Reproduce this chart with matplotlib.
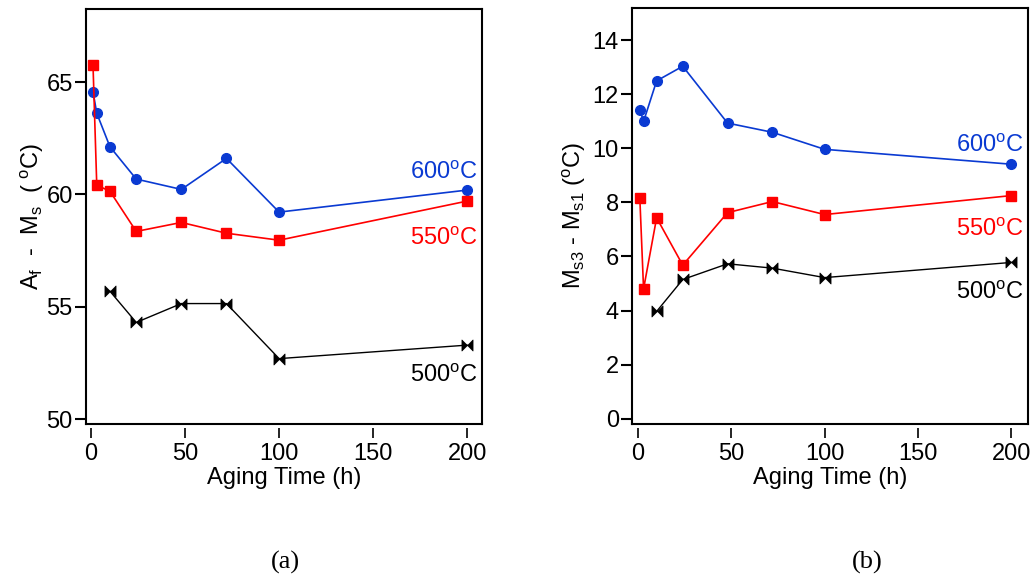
import matplotlib
matplotlib.use("Agg")
import matplotlib.pyplot as plt
from matplotlib.path import Path
import numpy as np

plt.rcParams['font.family'] = ['Liberation Sans', 'DejaVu Sans']
plt.rcParams['mathtext.fontset'] = 'custom'
plt.rcParams['mathtext.rm'] = 'Liberation Sans'
plt.rcParams['mathtext.it'] = 'Liberation Sans:italic'

# ---- data: panel (a) Af - Ms ----
t600_a = [1, 3, 10, 24, 48, 72, 100, 200]
v600_a = [64.57, 63.61, 62.12, 60.68, 60.22, 61.60, 59.21, 60.19]
t550_a = [1, 3, 10, 24, 48, 72, 100, 200]
v550_a = [65.76, 60.41, 60.14, 58.35, 58.75, 58.27, 57.96, 59.70]
t500_a = [10, 24, 48, 72, 100, 200]
v500_a = [55.69, 54.30, 55.14, 55.14, 52.69, 53.29]

# ---- data: panel (b) Ms3 - Ms1 ----
t600_b = [1, 3, 10, 24, 48, 72, 100, 200]
v600_b = [11.43, 10.99, 12.49, 13.03, 10.93, 10.59, 9.96, 9.41]
t550_b = [1, 3, 10, 24, 48, 72, 100, 200]
v550_b = [8.16, 4.80, 7.43, 5.68, 7.62, 8.03, 7.55, 8.25]
t500_b = [10, 24, 48, 72, 100, 200]
v500_b = [3.97, 5.15, 5.73, 5.57, 5.22, 5.78]

xticks = [0, 50, 100, 150, 200]
yticks_a = [50, 55, 60, 65]
yticks_b = [0, 2, 4, 6, 8, 10, 12, 14]

BLUE = '#0a3ad2'
RED = '#ff0000'

bowtie = Path([(-1, -1), (0, 0), (-1, 1), (-1, -1), (1, -1), (0, 0), (1, 1), (1, -1)],
              [Path.MOVETO, Path.LINETO, Path.LINETO, Path.CLOSEPOLY,
               Path.MOVETO, Path.LINETO, Path.LINETO, Path.CLOSEPOLY])

fig = plt.figure(figsize=(10.33, 5.79), dpi=100)

def setup(ax, xlim, ylim, yticks, ylabel, ylab_x):
    ax.set_xlim(*xlim)
    ax.set_ylim(*ylim)
    ax.set_xticks(xticks)
    ax.set_yticks(yticks)
    for s in ['top', 'right', 'left']:
        ax.spines[s].set_linewidth(1.5)
    ax.spines['bottom'].set_position(('outward', 3))
    ax.spines['bottom'].set_visible(False)
    ax.plot([0, 1], [0, 0], transform=ax.transAxes, color='k', lw=1.5, clip_on=False)
    ax.tick_params(axis='y', direction='out', length=8, width=1.5, labelsize=17, pad=1.5)
    ax.tick_params(axis='x', direction='out', length=7, width=1.2, labelsize=17, pad=4)
    ax.set_xlabel('Aging Time (h)', fontsize=17, labelpad=1)
    ax.set_ylabel(ylabel, fontsize=17)
    ax.yaxis.set_label_coords(ylab_x, 0.5)

def series(ax, t6, v6, t5, v5, t4, v4):
    ax.plot(t6, v6, color=BLUE, lw=1.2, marker='o', ms=7, mec=BLUE, mfc=BLUE, clip_on=False, zorder=3)
    ax.plot(t5, v5, color=RED, lw=1.2, marker='s', ms=7, mec=RED, mfc=RED, clip_on=False, zorder=3)
    ax.plot(t4, v4, color='k', lw=1.0, marker=bowtie, ms=8, mec='k', mfc='k', mew=0.5, clip_on=False, zorder=3)

# panel (a)
ax1 = fig.add_axes([0.0833, 0.2677, 0.3834, 0.7168])
series(ax1, t600_a, v600_a, t550_a, v550_a, t500_a, v500_a)
setup(ax1, (-2.7, 208), (49.78, 68.25), yticks_a,
      r'A$_\mathrm{f}$  -  M$_\mathrm{s}$  ( $^\mathrm{o}$C)', -0.1)
ax1.text(0.99, 0.605, r'600$^\mathrm{o}$C', transform=ax1.transAxes, ha='right', va='center', color=BLUE, fontsize=17)
ax1.text(0.99, 0.447, r'550$^\mathrm{o}$C', transform=ax1.transAxes, ha='right', va='center', color=RED, fontsize=17)
ax1.text(0.99, 0.115, r'500$^\mathrm{o}$C', transform=ax1.transAxes, ha='right', va='center', color='k', fontsize=17)

# panel (b)
ax2 = fig.add_axes([0.6118, 0.2677, 0.3834, 0.7193])
series(ax2, t600_b, v600_b, t550_b, v550_b, t500_b, v500_b)
setup(ax2, (-3.2, 209), (-0.19, 15.2), yticks_b,
      r'M$_\mathrm{s3}$ - M$_\mathrm{s1}$ ($^\mathrm{o}$C)', -0.112)
ax2.text(0.99, 0.667, r'600$^\mathrm{o}$C', transform=ax2.transAxes, ha='right', va='center', color=BLUE, fontsize=17)
ax2.text(0.99, 0.465, r'550$^\mathrm{o}$C', transform=ax2.transAxes, ha='right', va='center', color=RED, fontsize=17)
ax2.text(0.99, 0.315, r'500$^\mathrm{o}$C', transform=ax2.transAxes, ha='right', va='center', color='k', fontsize=17)

fig.text(285 / 1033, 1 - 562 / 579, '(a)', ha='center', va='center', fontsize=19, family='Liberation Serif')
fig.text(867 / 1033, 1 - 562 / 579, '(b)', ha='center', va='center', fontsize=19, family='Liberation Serif')

fig.savefig('out.png', dpi=100)
